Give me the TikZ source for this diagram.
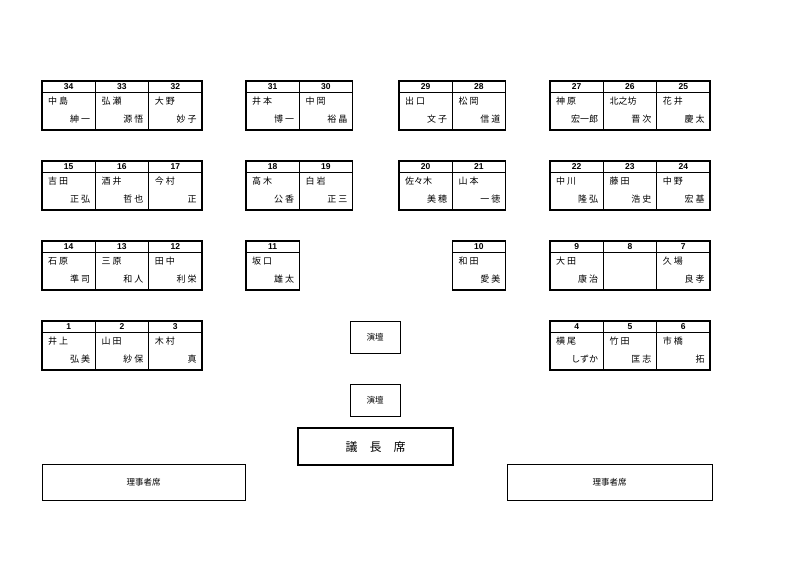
\documentclass[tikz,border=0pt]{standalone}
\usepackage{fontspec}
\setmainfont{Noto Sans CJK JP}
\newfontfamily\numfont{Liberation Sans}
\begin{document}
\begin{tikzpicture}[x=1pt,y=-1pt,
  cellbox/.style={draw,line width=0.8pt,minimum width=53.3pt,minimum height=49pt,inner sep=0pt,outer sep=0pt,anchor=north west},
  grp/.style={draw,line width=1.6pt},
  numtxt/.style={font=\numfont\fontsize{8.5}{9}\selectfont\bfseries,anchor=center},
  nmtxt/.style={font=\fontsize{9}{10}\selectfont,inner sep=0pt},
  plain/.style={draw,line width=0.8pt,inner sep=0pt,font=\fontsize{8.5}{10}\selectfont}]
\useasboundingbox (0,0) rectangle (802,567);
\newcommand{\seatcell}[6]{%
  \node[cellbox] (s#4) at (#2,#3) {};
  \draw[line width=0.8pt] ([yshift=-11pt]s#4.north west) -- ([yshift=-11pt]s#4.north east);
  \node[numtxt] (n#4) at ([yshift=-5.5pt]s#4.north) {#1};
  \node[nmtxt,anchor=west] (a#4) at ([xshift=6pt,yshift=-20pt]s#4.north west) {#5};
  \node[nmtxt,anchor=east] (b#4) at ([xshift=-5pt,yshift=-38.5pt]s#4.north east) {#6};}
% row 1
\seatcell{34}{42}{81}{34}{中\ 島}{紳\ 一}
\seatcell{33}{95.3}{81}{33}{弘\ 瀬}{源\ 悟}
\seatcell{32}{148.6}{81}{32}{大\ 野}{妙\ 子}
\draw[grp] (42,81) rectangle (201.9,130);
\seatcell{31}{246}{81}{31}{井\ 本}{博\ 一}
\seatcell{30}{299.3}{81}{30}{中\ 岡}{裕\ 晶}
\draw[grp] (246,81) rectangle (352.6,130);
\seatcell{29}{399}{81}{29}{出\ 口}{文\ 子}
\seatcell{28}{452.3}{81}{28}{松\ 岡}{信\ 道}
\draw[grp] (399,81) rectangle (505.6,130);
\seatcell{27}{550}{81}{27}{神\ 原}{宏一郎}
\seatcell{26}{603.3}{81}{26}{北之坊}{晋\ 次}
\seatcell{25}{656.6}{81}{25}{花\ 井}{慶\ 太}
\draw[grp] (550,81) rectangle (709.9,130);
% row 2
\seatcell{15}{42}{161}{15}{吉\ 田}{正\ 弘}
\seatcell{16}{95.3}{161}{16}{酒\ 井}{哲\ 也}
\seatcell{17}{148.6}{161}{17}{今\ 村}{正}
\draw[grp] (42,161) rectangle (201.9,210);
\seatcell{18}{246}{161}{18}{高\ 木}{公\ 香}
\seatcell{19}{299.3}{161}{19}{白\ 岩}{正\ 三}
\draw[grp] (246,161) rectangle (352.6,210);
\seatcell{20}{399}{161}{20}{佐々木}{美\ 穂}
\seatcell{21}{452.3}{161}{21}{山\ 本}{一\ 徳}
\draw[grp] (399,161) rectangle (505.6,210);
\seatcell{22}{550}{161}{22}{中\ 川}{隆\ 弘}
\seatcell{23}{603.3}{161}{23}{藤\ 田}{浩\ 史}
\seatcell{24}{656.6}{161}{24}{中\ 野}{宏\ 基}
\draw[grp] (550,161) rectangle (709.9,210);
% row 3
\seatcell{14}{42}{241}{14}{石\ 原}{準\ 司}
\seatcell{13}{95.3}{241}{13}{三\ 原}{和\ 人}
\seatcell{12}{148.6}{241}{12}{田\ 中}{利\ 栄}
\draw[grp] (42,241) rectangle (201.9,290);
\seatcell{11}{246}{241}{11}{坂\ 口}{雄\ 太}
\draw[grp] (246,241) rectangle (299.3,290);
\seatcell{10}{452.3}{241}{10}{和\ 田}{愛\ 美}
\draw[grp] (452.3,241) rectangle (505.6,290);
\seatcell{9}{550}{241}{9}{大\ 田}{康\ 治}
\seatcell{8}{603.3}{241}{8}{}{}
\seatcell{7}{656.6}{241}{7}{久\ 場}{良\ 孝}
\draw[grp] (550,241) rectangle (709.9,290);
% row 4
\seatcell{1}{42}{321}{1}{井\ 上}{弘\ 美}
\seatcell{2}{95.3}{321}{2}{山\ 田}{紗\ 保}
\seatcell{3}{148.6}{321}{3}{木\ 村}{真}
\draw[grp] (42,321) rectangle (201.9,370);
\seatcell{4}{550}{321}{4}{横\ 尾}{しずか}
\seatcell{5}{603.3}{321}{5}{竹\ 田}{匡\ 志}
\seatcell{6}{656.6}{321}{6}{市\ 橋}{拓}
\draw[grp] (550,321) rectangle (709.9,370);
% front
\node[plain,minimum width=50pt,minimum height=32pt] (podium1) at (375,337) {演壇};
\node[plain,minimum width=50pt,minimum height=32pt] (podium2) at (375,400) {演壇};
\node[draw,line width=1.6pt,minimum width=155pt,minimum height=37pt,font=\fontsize{12}{14}\selectfont] (chair) at (375.5,446.5) {議\hspace{1em}長\hspace{1em}席};
\node[plain,minimum width=203pt,minimum height=36pt] (exec1) at (143.5,482) {理事者席};
\node[plain,minimum width=205pt,minimum height=36pt] (exec2) at (609.5,482) {理事者席};
\end{tikzpicture}
\end{document}
